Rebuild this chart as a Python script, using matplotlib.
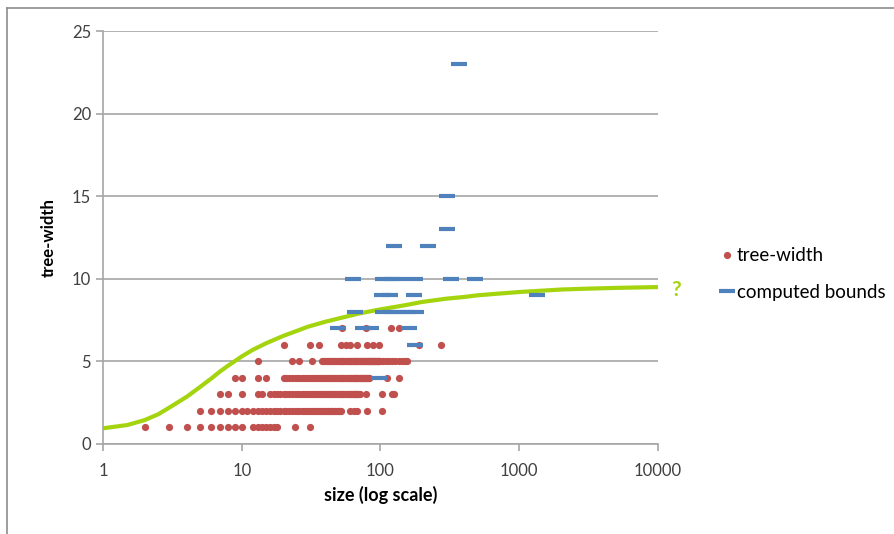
import numpy as np
import matplotlib
matplotlib.use("Agg")
import matplotlib.pyplot as plt
from matplotlib.lines import Line2D

# tree-width observed per graph size
tw1_size = [2, 3, 4, 5, 6, 7, 8, 9, 10, 12, 13, 14, 15, 16, 17, 18, 24, 31]
tw2_size = [5, 6] + list(range(7, 53)) + [60, 64, 68, 80, 102]
tw3_size = [7, 8, 10, 13, 14] + list(range(16, 72)) + [79, 103, 121, 125]
tw4_size = [9, 10, 13, 15] + list(range(20, 84)) + [112, 137]
tw5_size = [13, 23, 26, 32] + list(range(38, 100)) + [104, 110, 116, 122, 128, 135, 142, 150, 156]
tw6_size = [20, 31, 36, 52, 56, 60, 68, 80, 88, 98, 190, 275]
tw7_size = [53, 79, 120, 137]

# computed bounds
cb_size = [370, 303, 303, 126, 221,
           63, 105, 120, 137, 176, 324, 482,
           103, 118, 173, 1350,
           65, 105, 120, 137, 156, 181,
           49, 75, 86, 161,
           176, 98]
cb_val = [23, 15, 13, 12, 12,
          10, 10, 10, 10, 10, 10, 10,
          9, 9, 9, 9,
          8, 8, 8, 8, 8, 8,
          7, 7, 7, 7,
          6, 4]

# trend curve
trend_x = [1, 1.5, 2, 2.5, 3, 4, 5, 6, 7, 8, 10, 12, 15, 20, 25, 30, 40, 50, 70, 100,
           150, 200, 300, 400, 500, 700, 1000, 2000, 3000, 5000, 10000]
trend_y = [0.95, 1.15, 1.45, 1.8, 2.2, 2.85, 3.45, 3.95, 4.4, 4.75, 5.3, 5.7, 6.1, 6.55, 6.85,
           7.1, 7.4, 7.6, 7.9, 8.15, 8.4, 8.6, 8.8, 8.9, 9.0, 9.1, 9.2, 9.35, 9.4, 9.45, 9.5]

plt.rcParams['font.family'] = ['Lato', 'DejaVu Sans']

red = '#C0504D'
blue = '#4F81BD'
green = '#A4D40E'
gray = '#A6A6A6'

fig = plt.figure(figsize=(8.95, 5.34), dpi=100)
ax = fig.add_axes([103/895, 1-444/534, (658-103)/895, (444-31)/534])

tw_x, tw_y = [], []
for v, sizes in enumerate([tw1_size, tw2_size, tw3_size, tw4_size, tw5_size, tw6_size, tw7_size], start=1):
    tw_x += sizes
    tw_y += [v] * len(sizes)

ax.plot(trend_x, trend_y, color=green, lw=3, zorder=2, solid_capstyle='butt', solid_joinstyle='round')
ax.plot(tw_x, tw_y, 'o', color=red, ms=5.2, mec='none', zorder=3, label='tree-width')
ax.plot(cb_size, cb_val, '_', color=blue, ms=11, mew=3, zorder=4, label='computed bounds')

ax.set_xscale('log')
ax.set_xlim(1, 10000)
ax.set_ylim(0, 25)
ax.set_yticks([0, 5, 10, 15, 20, 25])
ax.set_xticks([1, 10, 100, 1000, 10000])
ax.set_xticklabels(['1', '10', '100', '1000', '10000'])
ax.minorticks_off()
ax.yaxis.grid(True, color=gray, lw=1.2)
ax.set_axisbelow(True)
for s in ['top', 'right']:
    ax.spines[s].set_visible(False)
for s in ['left', 'bottom']:
    ax.spines[s].set_color(gray)
    ax.spines[s].set_linewidth(1.2)
ax.tick_params(axis='both', colors=gray, labelcolor='#404040', labelsize=12, length=5, width=1.2, direction='out')
ax.tick_params(axis='x', pad=9)
ax.set_xlabel('size (log scale)', fontsize=13, fontweight='bold', labelpad=5)
ax.set_ylabel('tree-width', fontsize=12, fontweight='bold', labelpad=11)

# '?' just right of the end of the trend curve
ax.text(12500, 9.35, '?', fontsize=15, fontweight='bold', color=green,
        va='center', ha='left', clip_on=False)

handles = [Line2D([0], [0], marker='o', ls='none', color=red, ms=5.2, mec='none'),
           Line2D([0], [0], marker='_', ls='none', color=blue, ms=11, mew=3)]
fig.legend(handles, ['tree-width', 'computed bounds'], loc='center left',
           bbox_to_anchor=(703/895, 1-274/534), frameon=False, fontsize=13.5,
           handlelength=0.75, handletextpad=0.15, labelspacing=1.05)

# outer frame (left and top edges visible)
fig.add_artist(Line2D([7.5/895, 7.5/895], [0, 1-8/534], color='#8C8C8C', lw=1.2, transform=fig.transFigure))
fig.add_artist(Line2D([7.5/895, 1], [1-8/534, 1-8/534], color='#8C8C8C', lw=1.2, transform=fig.transFigure))

fig.savefig('out.png', dpi=100)
